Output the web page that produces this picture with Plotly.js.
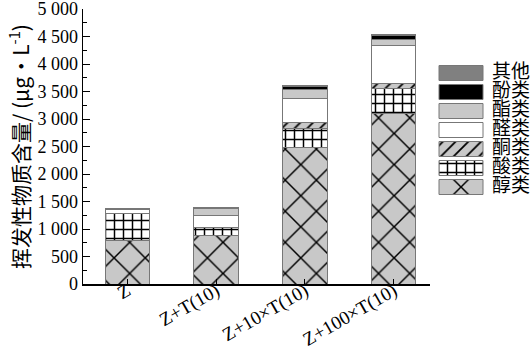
<!DOCTYPE html>
<html><head><meta charset="utf-8">
<script src="https://cdn.plot.ly/plotly-3.0.1.min.js"></script>
<style>html,body{margin:0;padding:0;background:#fff}#c{width:530px;height:348px}</style>
</head><body><div id="c"></div>
<script>
const categories = ['Z', 'Z+T(10)', 'Z+10×T(10)', 'Z+100×T(10)'];
const alcohols  = [800, 890, 2490, 3100];   // 醇类
const acids     = [485, 140, 330, 450];     // 酸类
const ketones   = [0, 0, 110, 100];         // 酮类
const aldehydes = [70, 215, 445, 690];      // 醛类
const esters    = [0, 120, 170, 110];       // 酯类
const phenols   = [15, 20, 45, 60];         // 酚类
const others    = [5, 10, 25, 30];          // 其他
const seriesNames = ['醇类', '酸类', '酮类', '醛类', '酯类', '酚类', '其他'];
const yTickVals = [0, 500, 1000, 1500, 2000, 2500, 3000, 3500, 4000, 4500, 5000];
const yTickText = ['0', '500', '1 000', '1 500', '2 000', '2 500', '3 000', '3 500', '4 000', '4 500', '5 000'];

const serif = 'Liberation Serif, Times New Roman, Noto Sans CJK SC, serif';
const cjk = 'Noto Sans CJK SC, Liberation Serif, serif';
const outline = {color: '#777', width: 1};
const styles = [
  {color: '#c8c8c8', pattern: {shape: 'x', size: 22, solidity: 0.13, fgcolor: '#000', bgcolor: '#c8c8c8', fillmode: 'replace'}},
  {color: '#fff', pattern: {shape: '+', size: 9, solidity: 0.3, fgcolor: '#000', bgcolor: '#fff', fillmode: 'replace'}},
  {color: '#c8c8c8', pattern: {shape: '/', size: 9, solidity: 0.2, fgcolor: '#000', bgcolor: '#c8c8c8', fillmode: 'replace'}},
  {color: '#ffffff'},
  {color: '#c8c8c8'},
  {color: '#000000'},
  {color: '#808080'}
];
const values = [alcohols, acids, ketones, aldehydes, esters, phenols, others];
const data = values.map((v, i) => ({
  type: 'bar', x: categories, y: v,
  name: '<span style="font-size:19px">' + seriesNames[i] + '</span>',
  marker: Object.assign({line: outline}, styles[i]),
  hoverinfo: 'skip'
}));

const layout = {
  width: 530, height: 348,
  margin: {l: 83, r: 100, t: 9, b: 64, autoexpand: false},
  paper_bgcolor: '#fff', plot_bgcolor: '#fff',
  barmode: 'stack', bargap: 0.5,
  showlegend: true,
  legend: {x: 1.0, y: 0.82, xanchor: 'left', yanchor: 'top', traceorder: 'reversed',
           bgcolor: 'rgba(0,0,0,0)',
           font: {family: cjk, size: 12, color: '#000'}, itemwidth: 52, tracegroupgap: 0},
  font: {family: serif, color: '#000'},
  xaxis: {
    range: [-0.5, 3.41], showline: true, linecolor: '#000', linewidth: 1.5,
    ticks: 'inside', ticklen: 5, tickcolor: '#000', tickangle: -30, ticklabelstandoff: -13,
    tickfont: {family: serif, size: 19, color: '#000'}, showgrid: false, zeroline: false
  },
  yaxis: {
    range: [0, 5000], showline: true, linecolor: '#000', linewidth: 1.5,
    tickvals: yTickVals, ticktext: yTickText, ticklabeloverflow: 'allow',
    ticks: 'inside', ticklen: 7, tickcolor: '#000',
    minor: {dtick: 250, ticks: 'inside', ticklen: 4, tickcolor: '#000', showgrid: false},
    tickfont: {family: serif, size: 18, color: '#000'}, showgrid: false, zeroline: false,
    title: {text: '挥发性物质含量/ (μg•L<sup>-1</sup>)', font: {family: cjk, size: 21, color: '#000'}, standoff: 2}
  }
};
Plotly.newPlot('c', data, layout, {staticPlot: true}).then(function () {
  // widen the legend swatches to the reference's wide rectangles, using the bars' own fills
  const barFills = [];
  document.querySelectorAll('.barlayer g.trace.bars').forEach(function (g) {
    const p = g.querySelector('path');
    barFills.push(p ? (p.getAttribute('style') || '') : '');
  });
  const items = document.querySelectorAll('.legend g.traces');
  items.forEach(function (g, k) {
    const p = g.querySelector('.legendpoints path');
    if (!p) return;
    p.setAttribute('d', 'M22,7.5H-22V-7.5H22Z');
    const idx = items.length - 1 - k;
    const m = /fill:\s*([^;]+);/.exec(barFills[idx] || '');
    if (m && m[1].indexOf('url') >= 0) p.style.fill = m[1];
  });
});
</script></body></html>
